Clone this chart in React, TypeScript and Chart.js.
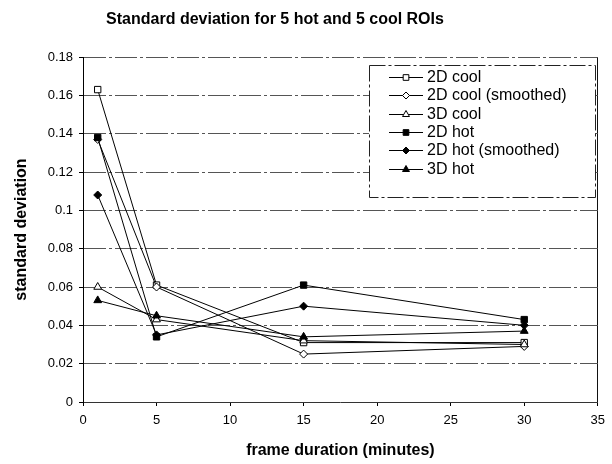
import React, { useEffect, useRef } from "react";
import { Chart, registerables } from "chart.js";

Chart.register(...registerables);

const durations = [1, 5, 15, 30];
const seriesLabels = [
  "2D cool",
  "2D cool (smoothed)",
  "3D cool",
  "2D hot",
  "2D hot (smoothed)",
  "3D hot",
];
const cool2D = [0.163, 0.061, 0.031, 0.031];
const cool2DSmoothed = [0.137, 0.06, 0.025, 0.029];
const cool3D = [0.06, 0.043, 0.032, 0.03];
const hot2D = [0.138, 0.034, 0.061, 0.043];
const hot2DSmoothed = [0.108, 0.035, 0.05, 0.04];
const hot3D = [0.053, 0.045, 0.034, 0.037];
const xTicks = [0, 5, 10, 15, 20, 25, 30, 35];
const yTicks = [0, 0.02, 0.04, 0.06, 0.08, 0.1, 0.12, 0.14, 0.16, 0.18];
const titleText = "Standard deviation for 5 hot and 5 cool ROIs";
const xTitle = "frame duration (minutes)";
const yTitle = "standard deviation";

const seriesValues = [cool2D, cool2DSmoothed, cool3D, hot2D, hot2DSmoothed, hot3D];
const pointStyles = ["rect", "rectRot", "triangle", "rect", "rectRot", "triangle"];
const filled = [false, false, false, true, true, true];
const radii = [4.5, 4, 4.5, 4.5, 4, 4.5];

const FONT = "'Liberation Sans', Arial, sans-serif";

function drawMarker(ctx: CanvasRenderingContext2D, style: string, x: number, y: number, r: number, fill: boolean) {
  ctx.beginPath();
  if (style === "rect") {
    const s = Math.SQRT1_2 * r;
    ctx.rect(x - s, y - s, 2 * s, 2 * s);
  } else if (style === "rectRot") {
    ctx.moveTo(x, y - r);
    ctx.lineTo(x + r, y);
    ctx.lineTo(x, y + r);
    ctx.lineTo(x - r, y);
    ctx.closePath();
  } else {
    ctx.moveTo(x, y - r);
    ctx.lineTo(x + r * 0.866, y + r * 0.5);
    ctx.lineTo(x - r * 0.866, y + r * 0.5);
    ctx.closePath();
  }
  ctx.fillStyle = fill ? "#000" : "#fff";
  ctx.fill();
  ctx.strokeStyle = "#000";
  ctx.lineWidth = 1;
  ctx.stroke();
}

const decorPlugin = {
  id: "decor",
  afterDraw(chart: any) {
    const ctx: CanvasRenderingContext2D = chart.ctx;
    ctx.save();
    // title
    ctx.fillStyle = "#000";
    ctx.font = `bold 16px ${FONT}`;
    ctx.textAlign = "center";
    ctx.textBaseline = "middle";
    ctx.fillText(titleText, 275, 20);

    // legend
    const bx = 369, by = 65, bw = 226, bh = 132;
    ctx.fillStyle = "#fff";
    ctx.fillRect(bx, by, bw, bh);
    ctx.setLineDash([16, 3, 3, 3]);
    ctx.strokeStyle = "#222";
    ctx.lineWidth = 1;
    ctx.strokeRect(bx + 0.5, by + 0.5, bw, bh);
    ctx.setLineDash([]);
    ctx.font = `16px ${FONT}`;
    ctx.textAlign = "left";
    ctx.textBaseline = "middle";
    chart.data.datasets.forEach((ds: any, i: number) => {
      const yy = Math.round(by + 12 + i * 18.3);
      ctx.beginPath();
      ctx.moveTo(389, yy + 0.5);
      ctx.lineTo(423, yy + 0.5);
      ctx.strokeStyle = "#000";
      ctx.lineWidth = 1;
      ctx.stroke();
      drawMarker(ctx, pointStyles[i], 406, yy + 0.5, radii[i] - 0.5, filled[i]);
      ctx.fillStyle = "#000";
      ctx.fillText(ds.label, 427, yy + 1);
    });
    ctx.restore();
  },
};

export default function App() {
  const ref = useRef<HTMLCanvasElement | null>(null);
  useEffect(() => {
    document.body.style.margin = "0";
    const canvas = ref.current;
    if (!canvas) return;
    const chart = new Chart(canvas, {
      type: "line",
      data: {
        datasets: seriesLabels.map((label, i) => ({
          label,
          data: durations.map((d, j) => ({ x: d, y: seriesValues[i][j] })),
          order: seriesLabels.length - i,
          borderColor: "#000",
          borderWidth: 1,
          backgroundColor: filled[i] ? "#000" : "#fff",
          pointBackgroundColor: filled[i] ? "#000" : "#fff",
          pointBorderColor: "#000",
          pointBorderWidth: 1,
          pointStyle: pointStyles[i] as any,
          pointRadius: radii[i],
          tension: 0,
          fill: false,
        })),
      },
      options: {
        animation: false,
        responsive: false,
        maintainAspectRatio: false,
        layout: { padding: { top: 57, right: 10, left: 0, bottom: 0 } },
        plugins: {
          legend: { display: false },
          title: { display: false },
          tooltip: { enabled: false },
        },
        scales: {
          x: {
            type: "linear",
            min: 0,
            max: 35,
            afterFit: (s: any) => {
              s.height = 62;
            },
            afterBuildTicks: (s: any) => {
              s.ticks = xTicks.map((v) => ({ value: v }));
            },
            grid: {
              color: (c: any) => (c.tick && c.tick.value === 35 ? "#111" : "rgba(0,0,0,0)"),
              drawOnChartArea: true,
              drawTicks: true,
              tickLength: 4,
              tickColor: "#000",
            },
            border: { display: true, color: "#333" },
            ticks: {
              color: "#000",
              font: { family: FONT, size: 13 },
              padding: 7,
              maxRotation: 0,
              autoSkip: false,
            },
            title: {
              display: true,
              text: xTitle,
              color: "#000",
              font: { family: FONT, size: 16, weight: "bold" },
              padding: { top: 0, bottom: 4 },
            },
          },
          y: {
            type: "linear",
            min: 0,
            max: 0.18,
            afterFit: (s: any) => {
              s.width = 83;
            },
            afterBuildTicks: (s: any) => {
              s.ticks = yTicks.map((v) => ({ value: v }));
            },
            grid: {
              color: (c: any) => (c.tick && c.tick.value === 0 ? "rgba(0,0,0,0)" : "#555"),
              tickColor: "#000",
              tickLength: 4,
            },
            border: { display: true, color: "#000", dash: [22, 3, 3, 3] },
            ticks: {
              color: "#000",
              font: { family: FONT, size: 13 },
              padding: 6,
              autoSkip: false,
              callback: (v: any) => String(Number(Number(v).toFixed(2))),
            },
            title: {
              display: true,
              text: yTitle,
              color: "#000",
              font: { family: FONT, size: 16, weight: "bold" },
              padding: { top: 12, bottom: 0 },
            },
          },
        },
      },
      plugins: [decorPlugin],
    });
    return () => chart.destroy();
  }, []);
  return (
    <div style={{ width: 612, height: 464 }}>
      <canvas ref={ref} width={612} height={464} style={{ display: "block", width: 612, height: 464 }} />
    </div>
  );
}
